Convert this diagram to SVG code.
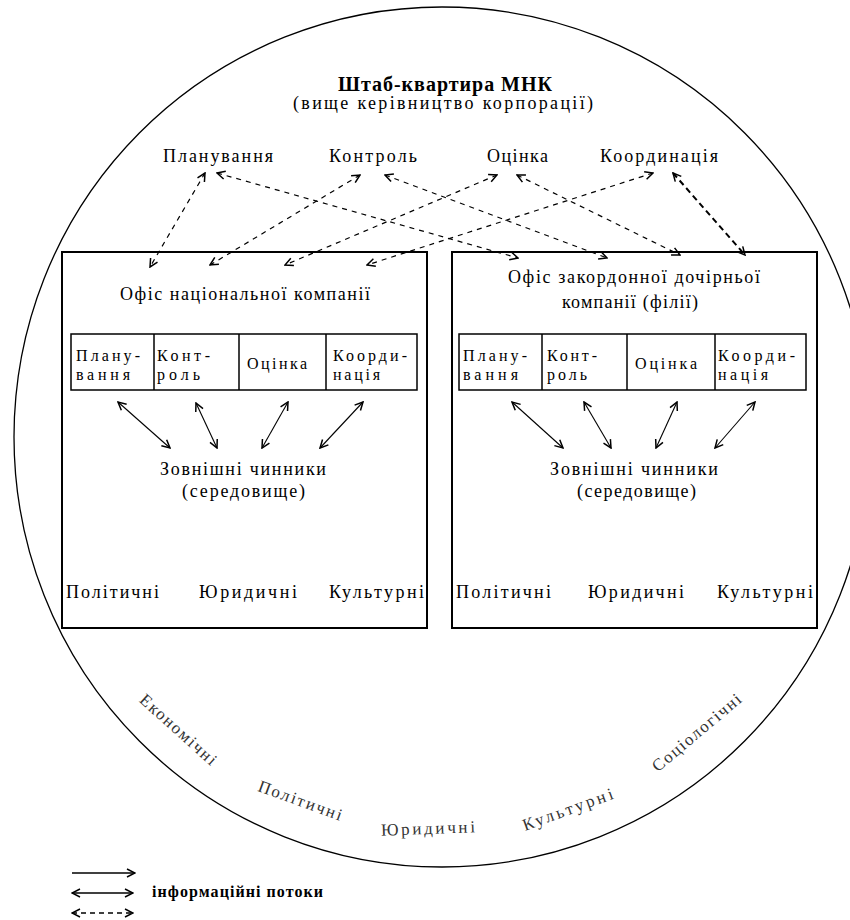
<svg xmlns="http://www.w3.org/2000/svg" width="850" height="920" viewBox="0 0 850 920">
<defs>
<style>
text{font-family:"Liberation Serif","Times New Roman",serif;font-size:18px;fill:#000}
.b{font-weight:bold;font-size:20px}
.t{font-size:16px}
.env{font-size:17px;fill:#333}
.box{fill:#fff;stroke:#000;stroke-width:2}
.cell{fill:none;stroke:#000;stroke-width:1.5}
.dash{fill:none;stroke:#000;stroke-width:1.2;stroke-dasharray:5 5;marker-start:url(#ah);marker-end:url(#ah)}
.solid{fill:none;stroke:#000;stroke-width:1.1;marker-start:url(#ah);marker-end:url(#ah)}
</style>
<marker id="ah" viewBox="0 0 10 10" refX="9" refY="5" markerWidth="10" markerHeight="10" markerUnits="userSpaceOnUse" orient="auto-start-reverse">
<path d="M1,1 L9,5 L1,9" fill="none" stroke="#000" stroke-width="1.5"/>
</marker>
</defs>
<rect width="850" height="920" fill="#fff"/>
<ellipse id="environment" cx="442" cy="437" rx="428" ry="430" fill="none" stroke="#000" stroke-width="1.3"/>

<g id="hq">
<text class="b" x="445" y="91" text-anchor="middle" textLength="214" lengthAdjust="spacing">Штаб-квартира МНК</text>
<text x="443" y="109" text-anchor="middle" textLength="300" lengthAdjust="spacing">(вище керівництво корпорації)</text>
<text x="163" y="162" textLength="110" lengthAdjust="spacing">Планування</text>
<text x="329" y="162" textLength="88" lengthAdjust="spacing">Контроль</text>
<text x="487" y="162" textLength="61" lengthAdjust="spacing">Оцінка</text>
<text x="600" y="162" textLength="118" lengthAdjust="spacing">Координація</text>
</g>

<g id="left-office">
<rect class="box" x="62" y="252" width="365" height="376"/>
<text x="120" y="300" textLength="250" lengthAdjust="spacing">Офіс національної компанії</text>
<rect class="cell" x="71" y="334" width="346" height="56"/>
<line class="cell" x1="154" y1="334" x2="154" y2="390"/>
<line class="cell" x1="239" y1="334" x2="239" y2="390"/>
<line class="cell" x1="326" y1="334" x2="326" y2="390"/>
<text class="t" x="76" y="361" textLength="64" lengthAdjust="spacing">Плану-</text>
<text class="t" x="76" y="380" textLength="54" lengthAdjust="spacing">вання</text>
<text class="t" x="157" y="361" textLength="53" lengthAdjust="spacing">Конт-</text>
<text class="t" x="157" y="380" textLength="43" lengthAdjust="spacing">роль</text>
<text class="t" x="247" y="369" textLength="60" lengthAdjust="spacing">Оцінка</text>
<text class="t" x="333" y="361" textLength="74" lengthAdjust="spacing">Коорди-</text>
<text class="t" x="333" y="380" textLength="47" lengthAdjust="spacing">нація</text>
<text x="160" y="475" textLength="166" lengthAdjust="spacing">Зовнішні чинники</text>
<text x="182" y="497" textLength="123" lengthAdjust="spacing">(середовище)</text>
<text x="66" y="598" textLength="93" lengthAdjust="spacing">Політичні</text>
<text x="199" y="598" textLength="98" lengthAdjust="spacing">Юридичні</text>
<text x="329" y="598" textLength="95" lengthAdjust="spacing">Культурні</text>
</g>

<g id="right-office">
<rect class="box" x="452" y="252" width="365" height="376"/>
<text x="508" y="283" textLength="252" lengthAdjust="spacing">Офіс закордонної дочірньої</text>
<text x="562" y="308" textLength="136" lengthAdjust="spacing">компанії (філії)</text>
<rect class="cell" x="459" y="334" width="347" height="56"/>
<line class="cell" x1="542" y1="334" x2="542" y2="390"/>
<line class="cell" x1="627" y1="334" x2="627" y2="390"/>
<line class="cell" x1="715" y1="334" x2="715" y2="390"/>
<text class="t" x="463" y="361" textLength="64" lengthAdjust="spacing">Плану-</text>
<text class="t" x="463" y="380" textLength="55" lengthAdjust="spacing">вання</text>
<text class="t" x="547" y="361" textLength="50" lengthAdjust="spacing">Конт-</text>
<text class="t" x="547" y="380" textLength="40" lengthAdjust="spacing">роль</text>
<text class="t" x="635" y="369" textLength="62" lengthAdjust="spacing">Оцінка</text>
<text class="t" x="718" y="361" textLength="77" lengthAdjust="spacing">Коорди-</text>
<text class="t" x="718" y="380" textLength="50" lengthAdjust="spacing">нація</text>
<text x="550" y="475" textLength="168" lengthAdjust="spacing">Зовнішні чинники</text>
<text x="577" y="497" textLength="119" lengthAdjust="spacing">(середовище)</text>
<text x="456" y="598" textLength="95" lengthAdjust="spacing">Політичні</text>
<text x="588" y="598" textLength="96" lengthAdjust="spacing">Юридичні</text>
<text x="717" y="598" textLength="96" lengthAdjust="spacing">Культурні</text>
</g>

<g id="global-factors">
<text class="env" transform="translate(178,730) rotate(42)" x="0" y="5" text-anchor="middle" textLength="97" lengthAdjust="spacing">Економічні</text>
<text class="env" transform="translate(300,801) rotate(20)" x="0" y="5" text-anchor="middle" textLength="88" lengthAdjust="spacing">Політичні</text>
<text class="env" transform="translate(428,829) rotate(-2)" x="0" y="5" text-anchor="middle" textLength="94" lengthAdjust="spacing">Юридичні</text>
<text class="env" transform="translate(568,810) rotate(-20)" x="0" y="5" text-anchor="middle" textLength="95" lengthAdjust="spacing">Культурні</text>
<text class="env" transform="translate(697,733) rotate(-40)" x="0" y="5" text-anchor="middle" textLength="111" lengthAdjust="spacing">Соціологічні</text>
</g>

<g id="connectors">
<line class="dash" x1="205" y1="173" x2="150" y2="267"/>
<line class="dash" x1="360" y1="175" x2="210" y2="265"/>
<line class="dash" x1="497" y1="175" x2="285" y2="265"/>
<line class="dash" x1="653" y1="173" x2="367" y2="265"/>
<line class="dash" x1="217" y1="173" x2="518" y2="258"/>
<line class="dash" x1="385" y1="175" x2="607" y2="258"/>
<line class="dash" x1="517" y1="175" x2="680" y2="255"/>
<line class="dash" x1="673" y1="173" x2="745" y2="255" style="stroke-width:2;stroke-dasharray:6 4"/>
<line class="solid" x1="118" y1="402" x2="170" y2="448"/>
<line class="solid" x1="196" y1="403" x2="217" y2="448"/>
<line class="solid" x1="288" y1="402" x2="262" y2="448"/>
<line class="solid" x1="363" y1="402" x2="320" y2="448"/>
<line class="solid" x1="512" y1="402" x2="563" y2="448"/>
<line class="solid" x1="584" y1="402" x2="611" y2="448"/>
<line class="solid" x1="677" y1="402" x2="656" y2="448"/>
<line class="solid" x1="755" y1="402" x2="715" y2="448"/>
</g>

<g id="legend">
<line x1="72" y1="873" x2="135" y2="873" stroke="#000" stroke-width="1.3" marker-end="url(#ah)"/>
<line x1="72" y1="893" x2="133" y2="893" stroke="#000" stroke-width="1.3" marker-start="url(#ah)" marker-end="url(#ah)"/>
<line x1="72" y1="913" x2="133" y2="913" stroke="#000" stroke-width="1.3" stroke-dasharray="5 4" marker-start="url(#ah)" marker-end="url(#ah)"/>
<text x="152" y="897" style="font-size:16px;font-weight:bold" textLength="171" lengthAdjust="spacing">інформаційні потоки</text>
</g>
</svg>
